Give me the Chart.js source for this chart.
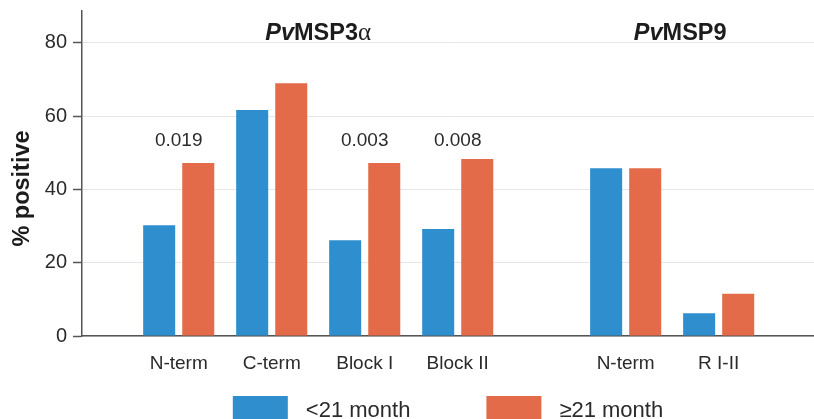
<!DOCTYPE html>
<html><head><meta charset="utf-8">
<script src="https://cdn.jsdelivr.net/npm/chart.js@4"></script>
<style>html,body{margin:0;padding:0;background:#fff;overflow:hidden}#wrap{width:814px;height:419px;position:relative}</style>
</head><body><div id="wrap"><canvas id="c" width="814" height="419"></canvas></div>
<script>
// ---- data ----
const groupTitles = [['Pv', 'MSP3', 'α'], ['Pv', 'MSP9', '']];
const categories = ['N-term', 'C-term', 'Block I', 'Block II', 'N-term', 'R I-II'];
const categoryGroup = [0, 0, 0, 0, 1, 1];
const seriesNames = ['<21 month', '≥21 month'];
const under21 = [30.2, 61.7, 26.1, 29.2, 45.8, 6.2];
const over21 = [47.2, 69.0, 47.2, 48.3, 45.8, 11.5];
const pValues = ['0.019', '', '0.003', '0.008', '', ''];
const yTickStep = 20;

// ---- layout / style ----
const GROUP_GAP = 0.806;
const xPos = categories.map((c, i) => i + categoryGroup[i] * GROUP_GAP);
const COLORS = ['#2f8ecd', '#e36b49'];
const FONT = '"Liberation Sans", Arial, sans-serif';
const TITLE_SHIFT = [0, 8];

const annot = {
  id: 'annot',
  afterDraw(chart) {
    const {ctx, scales: {x, y}, chartArea} = chart;
    ctx.save();
    ctx.fillStyle = '#1c1c1c';
    ctx.textBaseline = 'alphabetic';
    // group titles
    [0, 1].forEach(g => {
      const idx = categoryGroup.map((gg, i) => gg === g ? i : -1).filter(i => i >= 0);
      const cx = (x.getPixelForValue(xPos[idx[0]]) + x.getPixelForValue(xPos[idx[idx.length - 1]])) / 2 + TITLE_SHIFT[g];
      const fonts = ['italic bold 23.5px ' + FONT, 'bold 23.5px ' + FONT, '25px "Liberation Serif", serif'];
      const parts = groupTitles[g];
      let total = 0;
      const ws = parts.map((p, k) => { ctx.font = fonts[k]; const w = ctx.measureText(p).width; total += w; return w; });
      let sx = cx - total / 2;
      const by = y.getPixelForValue(80) - 3;
      ctx.textAlign = 'left';
      parts.forEach((p, k) => { ctx.font = fonts[k]; ctx.fillText(p, sx, by); sx += ws[k]; });
    });
    // p-values
    ctx.font = '19px ' + FONT;
    ctx.fillStyle = '#2b2b2b';
    ctx.textAlign = 'center';
    pValues.forEach((p, i) => {
      if (!p) return;
      ctx.fillText(p, x.getPixelForValue(xPos[i]), y.getPixelForValue(51.9));
    });
    // y title
    ctx.save();
    ctx.translate(23, 188.5);
    ctx.rotate(-Math.PI / 2);
    ctx.font = 'bold 23.5px ' + FONT;
    ctx.fillStyle = '#1c1c1c';
    ctx.textAlign = 'center';
    ctx.textBaseline = 'middle';
    ctx.fillText('% positive', 0, 0);
    ctx.restore();
    // legend
    ctx.font = '22px ' + FONT;
    const boxW = 55, boxH = 23, gap = 18, spacing = 76;
    const tw = seriesNames.map(s => ctx.measureText(s).width);
    const total = tw.reduce((a, w) => a + boxW + gap + w, 0) + spacing * (seriesNames.length - 1);
    let lx = (chartArea.left + chartArea.right) / 2 - total / 2;
    ctx.textAlign = 'left';
    ctx.textBaseline = 'alphabetic';
    seriesNames.forEach((s, k) => {
      ctx.fillStyle = COLORS[k];
      ctx.fillRect(lx, 396, boxW, boxH);
      ctx.fillStyle = '#2b2b2b';
      ctx.fillText(s, lx + boxW + gap, 416.5);
      lx += boxW + gap + tw[k] + spacing;
    });
    ctx.restore();
  }
};

new Chart(document.getElementById('c'), {
  type: 'bar',
  data: {
    datasets: [
      {label: seriesNames[0], data: under21.map((v, i) => ({x: xPos[i], y: v})), backgroundColor: COLORS[0], borderWidth: 0},
      {label: seriesNames[1], data: over21.map((v, i) => ({x: xPos[i], y: v})), backgroundColor: COLORS[1], borderWidth: 0}
    ]
  },
  options: {
    responsive: false,
    animation: false,
    devicePixelRatio: 1,
    categoryPercentage: 0.84,
    barPercentage: 0.82,
    layout: {padding: {top: 11, left: 0, right: 0, bottom: 0}},
    plugins: {legend: {display: false}, tooltip: {enabled: false}},
    scales: {
      x: {
        type: 'linear',
        offset: false,
        min: -1.04,
        max: xPos[xPos.length - 1] + 1.025,
        grid: {display: false, drawTicks: false, offset: false},
        border: {display: true, color: '#555', width: 1.5},
        afterBuildTicks: s => { s.ticks = xPos.map(v => ({value: v})); },
        ticks: {
          autoSkip: false, maxRotation: 0, padding: 16,
          color: '#2b2b2b', font: {family: FONT, size: 19},
          callback: (v, i) => categories[i]
        },
        afterFit: s => { s.height = 83; s.paddingLeft = 0; s.paddingRight = 0; }
      },
      y: {
        min: 0,
        max: 88.7,
        ticks: {stepSize: yTickStep, includeBounds: false, padding: 6, color: '#2b2b2b', font: {family: FONT, size: 20}},
        grid: {color: '#e6e6e6', lineWidth: 1, drawTicks: true, tickLength: 9, tickColor: '#555', tickWidth: 1.5},
        border: {display: true, color: '#555', width: 1.5},
        afterFit: s => { s.width = 82; s.paddingTop = 0; s.paddingBottom = 0; }
      }
    }
  },
  plugins: [annot]
});
</script></body></html>
